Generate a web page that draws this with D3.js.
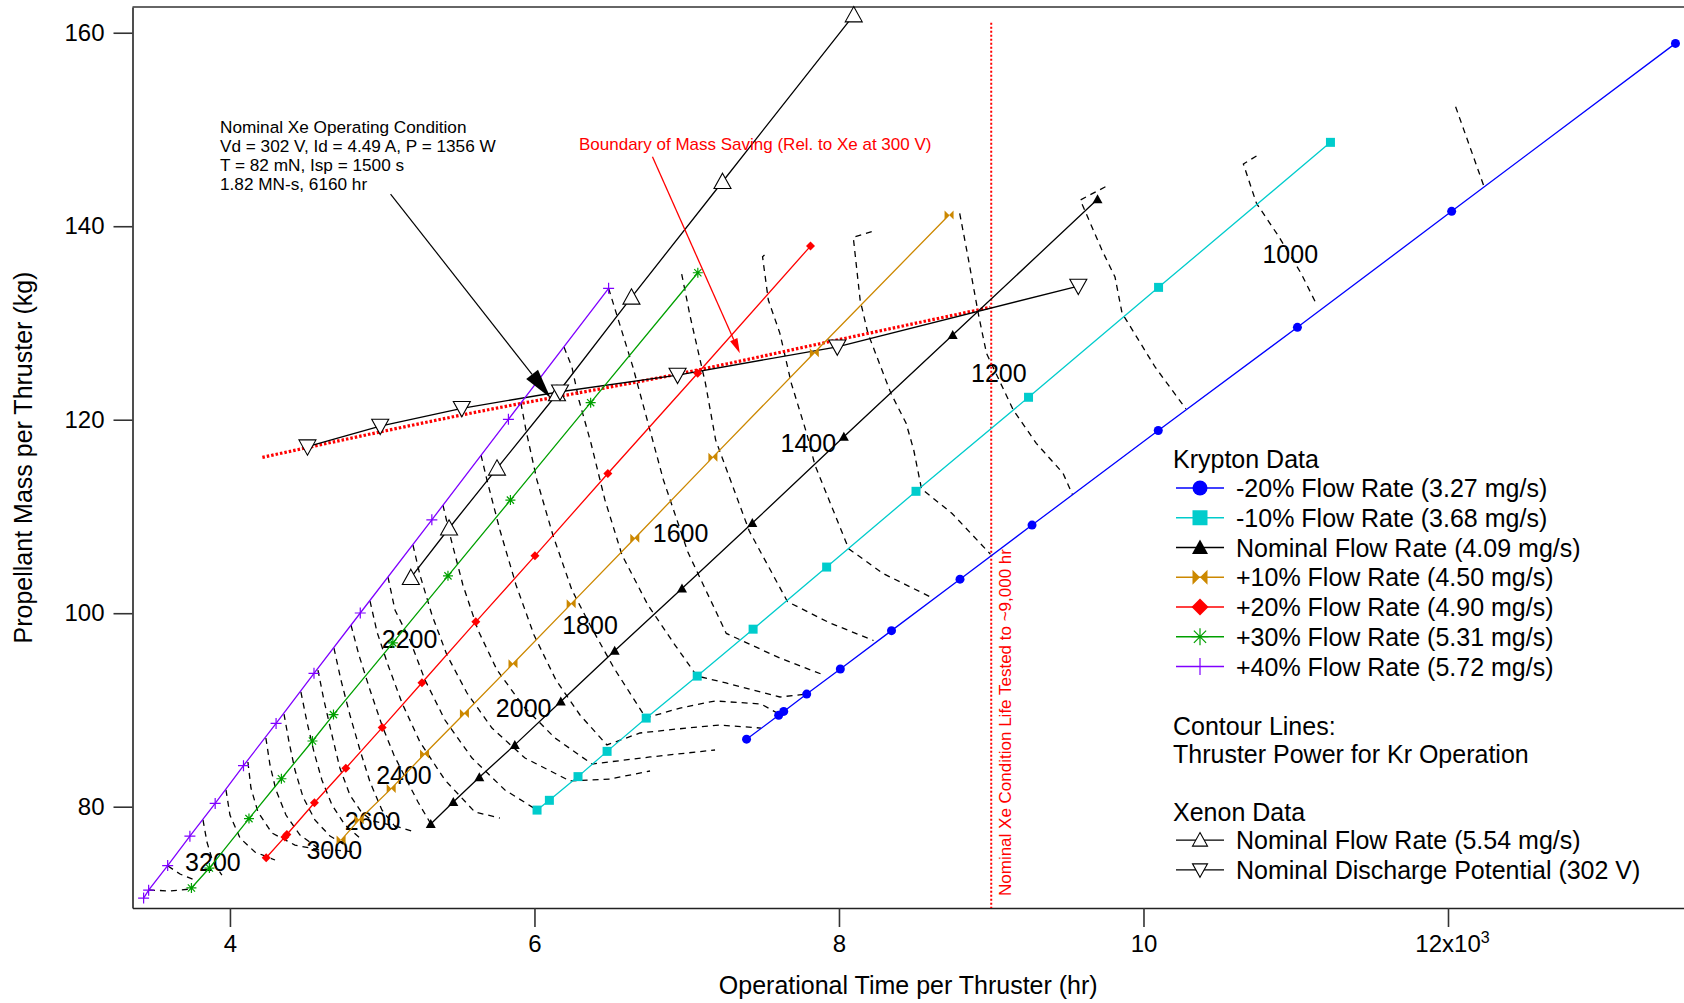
<!DOCTYPE html>
<html>
<head>
<meta charset="utf-8">
<script src="https://cdn.jsdelivr.net/npm/d3@7"></script>
<style>
  body { margin: 0; background: #fff; }
  svg { display: block; font-family: "Liberation Sans", Arial, sans-serif; }
</style>
</head>
<body>
<svg id="chart" width="1684" height="1003"></svg>
<script>
// ---- data : [operational time (hr), propellant mass (kg)] ----
var krM20 = [[7393,86.98],[7604,89.45],[7637,89.85],[7788,91.64],[8009,94.23],[8345,98.20],[8795,103.52],[9268,109.11],[10097,118.88],[11011,129.55],[12024,141.54],[13494,158.90]];
var krM10 = [[6017,79.65],[6098,80.66],[6286,83.11],[6477,85.72],[6734,89.16],[7069,93.50],[7436,98.35],[7919,104.77],[8506,112.60],[9245,122.32],[10099,133.68],[11228,148.67]];
var krNom = [[5319,78.22],[5467,80.49],[5638,83.04],[5871,86.39],[6173,90.87],[6527,96.12],[6969,102.55],[7431,109.32],[8032,118.24],[8747,128.75],[9698,142.78]];
var krP10 = [[4730,76.55],[4849,78.66],[5059,81.87],[5278,85.44],[5540,89.63],[5859,94.77],[6241,100.97],[6659,107.75],[7172,116.13],[7838,126.93],[8723,141.16]];
var krP20 = [[4238,74.72],[4361,76.88],[4374,77.13],[4555,80.41],[4761,83.98],[5000,88.18],[5261,92.81],[5615,99.11],[6003,105.93],[6482,114.44],[7072,124.80],[7813,137.95]];
var krP30 = [[3747,71.60],[3865,73.66],[4125,78.77],[4338,82.89],[4542,86.79],[4680,89.52],[5070,96.93],[5432,103.86],[5842,111.69],[6369,121.76],[7073,135.19]];
var krP40 = [[3433,70.56],[3466,71.37],[3591,73.92],[3737,76.95],[3903,80.34],[4089,84.24],[4303,88.61],[4552,93.79],[4856,100.02],[5326,109.65],[5829,120.04],[6487,133.58]];

var xeFlow = [[5188,103.67],[5439,108.78],[5754,114.98],[6148,122.66],[6637,132.65],[7235,144.60],[8097,161.83]];
var xeVolt = [[4509,117.21],[4987,119.35],[5523,121.18],[6168,122.89],[6940,124.62],[7989,127.54],[9572,133.82]];

var boundary = [[4213,116.11],[5523,120.49],[7073,125.14],[7888,127.90],[8994,131.62]];
var lifeTested = 9000;

// power contours (W)
var contourLevels = [900, 1000, 1100, 1200, 1300, 1400, 1500, 1600, 1700, 1800, 1900, 2000, 2100, 2200, 2300, 2400, 2500, 2600, 2700, 2800, 2900, 3000, 3100, 3200, 3300, 3400];
var contourLines = [
  [[12050,152.35],[12233,144.26]],
  [[10742,147.26],[10656,146.43],[10742,142.37],[10889,138.92],[11035,135.13],[11133,132.03]],
  [[9750,144.08],[9585,142.71],[9727,137.54],[9813,134.75],[9859,131.03],[10076,125.45],[10279,121.11]],
  [[8793,141.33],[8843,137.20],[8919,130.65],[8969,126.86],[9145,121.00],[9296,117.56],[9472,114.46],[9534,112.25]],
  [[8215,139.43],[8094,138.85],[8139,132.37],[8190,128.93],[8341,122.73],[8441,119.63],[8491,116.87],[8542,112.86],[8743,110.31],[8994,106.11]],
  [[7511,137.02],[7498,136.85],[7536,132.37],[7612,128.93],[7687,123.76],[7788,118.59],[7842,115.32],[8064,106.66],[8290,104.10],[8617,101.56]],
  [[6967,135.06],[7023,130.65],[7123,123.76],[7190,117.90],[7411,108.49],[7662,101.19],[7938,99.01],[8227,97.18]],
  [[6487,133.58],[6646,125.48],[6847,113.77],[7008,106.29],[7260,97.91],[7612,95.36],[7901,93.61]],
  [[6194,127.51],[6246,125.45],[6292,122.04],[6371,117.59],[6463,111.70],[6575,106.02],[6745,100.85],[6923,96.71],[7067,93.51],[7258,92.79],[7612,91.34],[7790,91.65]],
  [[5911,121.73],[5944,118.94],[6016,113.77],[6121,108.08],[6246,102.40],[6365,98.78],[6522,94.34],[6732,89.17],[6956,90.20],[7186,90.93],[7488,90.62],[7606,89.58]],
  [[5649,116.35],[5688,113.77],[5773,108.60],[5879,102.92],[5997,97.75],[6141,93.10],[6299,89.48],[6476,86.38],[6693,87.62],[6936,88.03],[7218,88.44],[7488,88.13]],
  [[5399,111.18],[5445,108.08],[5530,102.92],[5629,98.26],[5754,94.13],[5931,90.31],[6135,87.10],[6378,84.41],[6759,85.14],[7186,85.86]],
  [[5202,107.05],[5248,103.95],[5327,99.81],[5425,95.68],[5557,91.75],[5721,88.13],[5938,85.03],[6233,82.66],[6496,82.86],[6759,83.69]],
  [[5038,103.74],[5084,100.33],[5182,97.23],[5281,93.10],[5412,88.96],[5590,85.03],[5806,81.73],[6016,79.66]],
  [[4920,101.26],[4966,98.06],[5038,94.65],[5130,90.72],[5248,86.69],[5412,82.76],[5609,79.45],[5773,78.83]],
  [[4795,98.78],[4847,95.68],[4920,92.06],[4998,88.44],[5077,85.34],[5143,83.28],[5235,80.49],[5320,78.21]],
  [[4683,96.40],[4729,93.10],[4788,89.48],[4854,85.86],[4920,82.55],[4998,79.66],[5103,77.59]],
  [[4578,94.13],[4617,91.03],[4670,87.41],[4722,84.00],[4788,81.21],[4867,79.35],[4939,78.52],[5084,78.01],[5215,77.38]],
  [[4466,91.86],[4506,88.75],[4552,85.65],[4604,82.76],[4670,80.18],[4755,78.11],[4854,76.76]],
  [[4355,89.58],[4388,86.69],[4427,83.79],[4480,81.00],[4558,78.63],[4657,76.97],[4755,76.04]],
  [[4236,87.10],[4263,84.31],[4302,81.73],[4368,79.14],[4460,77.07],[4578,75.73]],
  [[4118,84.62],[4138,81.93],[4184,79.45],[4276,77.28],[4427,76.04],[4591,75.52],[4683,75.52],[4821,75.32]],
  [[3974,81.73],[4000,79.14],[4066,76.76],[4164,75.32],[4296,74.49]],
  [[3823,78.63],[3849,76.35],[3888,74.28],[3947,72.94]],
  [[3593,73.87],[3672,73.04],[3770,72.42]],
  [[3468,71.39],[3606,71.29],[3737,71.49]]
];
var contourLabelText = ["1000","1200","1400","1600","1800","2000","2200","2400","2600","3000","3200"];
var contourLabelAt = [[10964,137.10],[9050,124.80],[7799,117.56],[6960,108.30],[6365,98.82],[5929,90.25],[5180,97.29],[5143,83.26],[4937,78.51],[4685,75.49],[3888,74.28]];

var xTicks = [4000, 6000, 8000, 10000, 12000];
var yTicks = [80, 100, 120, 140, 160];

var krNames = ["-20% Flow Rate (3.27 mg/s)","-10% Flow Rate (3.68 mg/s)","Nominal Flow Rate (4.09 mg/s)","+10% Flow Rate (4.50 mg/s)","+20% Flow Rate (4.90 mg/s)","+30% Flow Rate (5.31 mg/s)","+40% Flow Rate (5.72 mg/s)"];
var xeNames = ["Nominal Flow Rate (5.54 mg/s)","Nominal Discharge Potential (302 V)"];

// ---- styles ----
var krSeries = [
  {data: krM20, color: "#0000ff", mark: "circle"},
  {data: krM10, color: "#00cccc", mark: "square"},
  {data: krNom, color: "#000000", mark: "triUp"},
  {data: krP10, color: "#cc8800", mark: "bowtie"},
  {data: krP20, color: "#ff0000", mark: "diamond"},
  {data: krP30, color: "#00a000", mark: "asterisk"},
  {data: krP40, color: "#7f00ff", mark: "plus"}
];
var xeSeries = [
  {data: xeFlow, mark: "openUp"},
  {data: xeVolt, mark: "openDown"}
];

var svg = d3.select("#chart");
var pL = 132.5, pR = 1684, pT = 7, pB = 908;

var x = d3.scaleLinear().domain([3360, 13550]).range([pL, pR]);
var y = d3.scaleLinear().domain([69.53, 162.66]).range([pB, pT]);

var line = d3.line().x(function(d){ return x(d[0]); }).y(function(d){ return y(d[1]); });

function markerPath(type, s) {
  var h = s / 2, k = h * 0.72;
  switch (type) {
    case "circle":  return d3.symbol(d3.symbolCircle, Math.PI * h * h)();
    case "square":  return "M" + (-h) + "," + (-h) + "h" + s + "v" + s + "h" + (-s) + "Z";
    case "triUp":
    case "openUp":  return "M0," + (-h) + "L" + h + "," + (h * 0.8) + "L" + (-h) + "," + (h * 0.8) + "Z";
    case "openDown":return "M0," + h + "L" + h + "," + (-h * 0.8) + "L" + (-h) + "," + (-h * 0.8) + "Z";
    case "bowtie":  return "M" + (-h) + "," + (-h) + "L0,0L" + (-h) + "," + h + "Z" + "M" + h + "," + (-h) + "L0,0L" + h + "," + h + "Z";
    case "diamond": return "M0," + (-h) + "L" + h + ",0L0," + h + "L" + (-h) + ",0Z";
    case "asterisk":return "M" + (-h) + ",0H" + h + "M0," + (-h) + "V" + h + "M" + (-k) + "," + (-k) + "L" + k + "," + k + "M" + (-k) + "," + k + "L" + k + "," + (-k);
    case "plus":    return "M" + (-h) + ",0H" + h + "M0," + (-h) + "V" + h;
  }
}

function drawMark(g, type, cx, cy, s, color) {
  var p = g.append("path")
    .attr("d", markerPath(type, s))
    .attr("transform", "translate(" + cx + "," + cy + ")");
  if (type == "asterisk" || type == "plus") {
    p.attr("fill", "none").attr("stroke", color).attr("stroke-width", 1.2);
  } else if (type == "openUp" || type == "openDown") {
    p.attr("fill", "#fff").attr("stroke", "#000").attr("stroke-width", 1.1);
  } else {
    p.attr("fill", color);
  }
  return p;
}

var chartMarkSize = {circle: 9, square: 9, triUp: 10, bowtie: 9, diamond: 9, asterisk: 10, plus: 11, openUp: 17, openDown: 17};

// ---- axes ----
var xAxis = d3.axisBottom(x).tickValues(xTicks).tickSize(19).tickSizeOuter(0).tickPadding(8)
  .tickFormat(function(d){ return d == 12000 ? "" : d / 1000; });
var gx = svg.append("g").attr("transform", "translate(0," + pB + ")").call(xAxis);
gx.selectAll("text").attr("font-size", 24).attr("fill", "#000").attr("font-family", "Liberation Sans, Arial, sans-serif");
var t12 = gx.selectAll(".tick").filter(function(d){ return d == 12000; }).select("text");
t12.append("tspan").text("12x10");
t12.append("tspan").attr("dy", "-0.55em").attr("font-size", 16).text("3");
t12.attr("dx", "4");

var yAxis = d3.axisLeft(y).tickValues(yTicks).tickSize(19).tickSizeOuter(0).tickPadding(9);
var gy = svg.append("g").attr("transform", "translate(" + pL + ",0)").call(yAxis);
gy.selectAll("text").attr("font-size", 24).attr("fill", "#000").attr("font-family", "Liberation Sans, Arial, sans-serif");

[gx, gy].forEach(function(g){
  g.select(".domain").attr("stroke", "#222").attr("stroke-width", 1.6);
  g.selectAll(".tick line").attr("stroke", "#333").attr("stroke-width", 1.6);
});
svg.append("line").attr("x1", pL).attr("x2", pR).attr("y1", pT).attr("y2", pT)
  .attr("stroke", "#333").attr("stroke-width", 1.6);

svg.append("text").attr("x", (pL + pR) / 2).attr("y", 994).attr("text-anchor", "middle")
  .attr("font-size", 25).text("Operational Time per Thruster (hr)");
svg.append("text").attr("transform", "translate(32," + ((pT + pB) / 2) + ") rotate(-90)")
  .attr("text-anchor", "middle").attr("font-size", 25).text("Propellant Mass per Thruster (kg)");

// ---- contours ----
var gc = svg.append("g");
gc.selectAll("path.contour").data(contourLines).enter().append("path")
  .attr("class", "contour")
  .attr("d", line)
  .attr("fill", "none").attr("stroke", "#000").attr("stroke-width", 1.3)
  .attr("stroke-dasharray", "6,5");
gc.selectAll("text").data(contourLabelText).enter().append("text")
  .attr("x", function(d, i){ return x(contourLabelAt[i][0]); })
  .attr("y", function(d, i){ return y(contourLabelAt[i][1]); })
  .attr("dy", "0.36em").attr("text-anchor", "middle").attr("font-size", 25)
  .text(function(d){ return d; });

// ---- red reference lines ----
svg.append("line")
  .attr("x1", x(lifeTested)).attr("x2", x(lifeTested))
  .attr("y1", y(161.04)).attr("y2", y(69.53))
  .attr("stroke", "#ff0000").attr("stroke-width", 2).attr("stroke-dasharray", "2,2");
svg.append("text")
  .attr("transform", "translate(" + (x(lifeTested) + 20) + ",896) rotate(-90)")
  .attr("font-size", 17).attr("fill", "#ff0000")
  .text("Nominal Xe Condition Life Tested to ~9,000 hr");

svg.append("path").datum(boundary)
  .attr("d", line.curve(d3.curveMonotoneX))
  .attr("fill", "none").attr("stroke", "#ff0000").attr("stroke-width", 3.2)
  .attr("stroke-dasharray", "2.5,2");
line.curve(d3.curveLinear);

// ---- data series ----
xeSeries.forEach(function(s){
  svg.append("path").datum(s.data).attr("d", line)
    .attr("fill", "none").attr("stroke", "#000").attr("stroke-width", 1.3);
});
krSeries.forEach(function(s){
  svg.append("path").datum(s.data).attr("d", line)
    .attr("fill", "none").attr("stroke", s.color).attr("stroke-width", 1.3);
  var g = svg.append("g");
  s.data.forEach(function(d){ drawMark(g, s.mark, x(d[0]), y(d[1]), chartMarkSize[s.mark], s.color); });
});
xeSeries.forEach(function(s){
  var g = svg.append("g");
  s.data.forEach(function(d){ drawMark(g, s.mark, x(d[0]), y(d[1]), chartMarkSize[s.mark], "#000"); });
});

// ---- annotations ----
function arrow(from, to, color, len, half, width) {
  var x1 = x(from[0]), y1 = y(from[1]), x2 = x(to[0]), y2 = y(to[1]);
  var a = Math.atan2(y2 - y1, x2 - x1);
  var bx = x2 - len * Math.cos(a), by = y2 - len * Math.sin(a);
  svg.append("line").attr("x1", x1).attr("y1", y1).attr("x2", bx).attr("y2", by)
    .attr("stroke", color).attr("stroke-width", width);
  var px = -Math.sin(a) * half, py = Math.cos(a) * half;
  svg.append("path")
    .attr("d", "M" + x2 + "," + y2 + "L" + (bx + px) + "," + (by + py) + "L" + (bx - px) + "," + (by - py) + "Z")
    .attr("fill", color);
}
arrow([5055,143.33], [6106,122.24], "#000", 30, 7.5, 1.2);
arrow([6775,147.18], [7349,126.86], "#ff0000", 15, 4, 1.3);

var note = ["Nominal Xe Operating Condition", "Vd = 302 V, Id = 4.49 A, P = 1356 W", "T = 82 mN, Isp = 1500 s", "1.82 MN-s, 6160 hr"];
svg.append("g").selectAll("text").data(note).enter().append("text")
  .attr("x", 220).attr("y", function(d, i){ return 127.3 + i * 19; })
  .attr("dy", "0.36em").attr("font-size", 17.2).text(function(d){ return d; });
svg.append("text").attr("x", 579).attr("y", 144.3).attr("dy", "0.36em")
  .attr("font-size", 17).attr("fill", "#ff0000")
  .text("Boundary of Mass Saving (Rel. to Xe at 300 V)");

// ---- legend ----
var lg = svg.append("g").attr("font-size", 25);
var lx = 1173, rowH = 29.75;
lg.append("text").attr("x", lx).attr("y", 459).attr("dy", "0.36em").text("Krypton Data");
var legendMarkSize = {circle: 15, square: 15, triUp: 16, bowtie: 15, diamond: 17, asterisk: 17, plus: 17, openUp: 15, openDown: 15};
krSeries.forEach(function(s, i){
  var yy = 488 + i * rowH;
  lg.append("line").attr("x1", lx + 3).attr("x2", lx + 51).attr("y1", yy).attr("y2", yy)
    .attr("stroke", s.color).attr("stroke-width", 1.3);
  drawMark(lg, s.mark, lx + 27, yy, legendMarkSize[s.mark], s.color);
  lg.append("text").attr("x", lx + 63).attr("y", yy).attr("dy", "0.36em").text(krNames[i]);
});
lg.append("text").attr("x", lx).attr("y", 725.6).attr("dy", "0.36em").text("Contour Lines:");
lg.append("text").attr("x", lx).attr("y", 753.5).attr("dy", "0.36em").text("Thruster Power for Kr Operation");
lg.append("text").attr("x", lx).attr("y", 811.5).attr("dy", "0.36em").text("Xenon Data");
xeSeries.forEach(function(s, i){
  var yy = 840.1 + i * rowH;
  lg.append("line").attr("x1", lx + 3).attr("x2", lx + 51).attr("y1", yy).attr("y2", yy)
    .attr("stroke", "#000").attr("stroke-width", 1.3);
  drawMark(lg, s.mark, lx + 27, yy, legendMarkSize[s.mark], "#000");
  lg.append("text").attr("x", lx + 63).attr("y", yy).attr("dy", "0.36em").text(xeNames[i]);
});
</script>
</body>
</html>
